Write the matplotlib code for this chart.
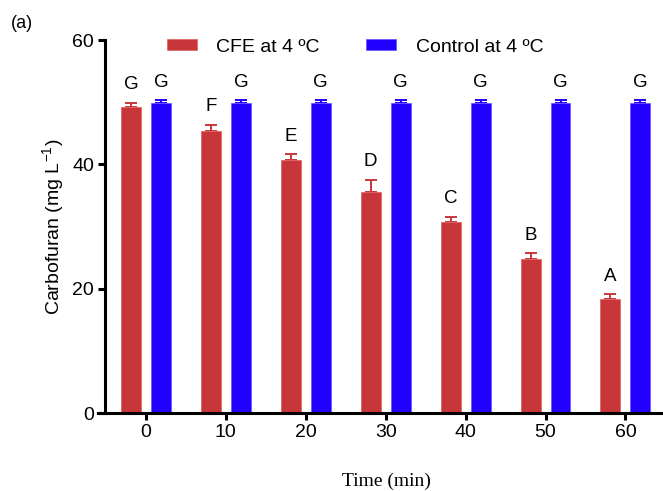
import matplotlib
matplotlib.use("Agg")
import matplotlib.pyplot as plt
import numpy as np

plt.rcParams['font.family'] = ['Liberation Sans', 'DejaVu Sans']
plt.rcParams['mathtext.fontset'] = 'custom'
plt.rcParams['mathtext.rm'] = 'Liberation Sans'

times = ["0", "10", "20", "30", "40", "50", "60"]
cfe_values = [49.3, 45.3, 40.7, 35.6, 30.7, 24.7, 18.4]
cfe_err = [0.6, 1.0, 0.9, 1.9, 0.9, 1.0, 0.7]
control_values = [49.8, 49.8, 49.8, 49.8, 49.8, 49.8, 49.8]
control_err = [0.5, 0.5, 0.5, 0.5, 0.5, 0.5, 0.5]
cfe_letters = ["G", "F", "E", "D", "C", "B", "A"]
control_letters = ["G", "G", "G", "G", "G", "G", "G"]
series_names = ["CFE at 4 ºC", "Control at 4 ºC"]
yticks = [0, 20, 40, 60]

red = "#C8363A"
blue = "#2200FF"

fig = plt.figure(figsize=(6.63, 4.91), dpi=100)
ax = fig.add_axes([98 / 663, 1 - 413 / 491, (663 - 98) / 663, (413 - 40) / 491])

x = np.arange(len(times))
w = 0.25
off = 0.1875

b1 = ax.bar(x - off, cfe_values, w, color=red, edgecolor="#E06A6A", linewidth=0.6,
            label=series_names[0], zorder=2)
b2 = ax.bar(x + off, control_values, w, color=blue, edgecolor="#6A5CFF", linewidth=0.6,
            label=series_names[1], zorder=2)
ax.errorbar(x - off, cfe_values, yerr=[np.zeros(len(x)), cfe_err], fmt="none",
            ecolor=red, elinewidth=1.4, capsize=4, capthick=1.4, zorder=1)
ax.errorbar(x + off, control_values, yerr=[np.zeros(len(x)), control_err], fmt="none",
            ecolor=blue, elinewidth=1.4, capsize=4, capthick=1.4, zorder=1)

for xi, v, e, t in zip(x - off, cfe_values, cfe_err, cfe_letters):
    ax.annotate(t, (xi, v + e), xytext=(0, 7), textcoords="offset points",
                ha="center", va="bottom", fontsize=13.5)
for xi, v, e, t in zip(x + off, control_values, control_err, control_letters):
    ax.annotate(t, (xi, v + e), xytext=(0, 7), textcoords="offset points",
                ha="center", va="bottom", fontsize=13.5)

ax.set_xlim(-0.6, 6.47)
ax.set_ylim(0, 60)
ax.set_xticks(x)
ax.set_xticklabels(times)
ax.set_yticks(yticks)
ax.tick_params(axis="both", direction="out", length=5, width=2.2, labelsize=14, pad=3)

ax.spines["top"].set_visible(False)
ax.spines["right"].set_visible(False)
ax.spines["left"].set_position(("data", -0.51))
for s in ("left", "bottom"):
    ax.spines[s].set_linewidth(2.2)

ax.set_ylabel("Carbofuran (mg L$^{-1}$)", fontsize=14, labelpad=4)
ax.set_xlabel("Time (min)", fontsize=14, family="Liberation Serif", labelpad=20)
ax.xaxis.set_label_coords((386 - 98) / 565, -(481 - 413) / 373)
ax.xaxis.label.set_va("center")

ax.legend(handles=[b1, b2], ncol=2, frameon=False, fontsize=14,
          loc="center", bbox_to_anchor=((355 - 98) / 565, (413 - 47) / 373),
          bbox_transform=ax.transAxes,
          handlelength=1.55, handleheight=0.55, handletextpad=1.0, columnspacing=2.4)

fig.text(11 / 663, 1 - 24 / 491, "(a)", fontsize=13, va="center", ha="left")

fig.savefig("out.png", dpi=100)
